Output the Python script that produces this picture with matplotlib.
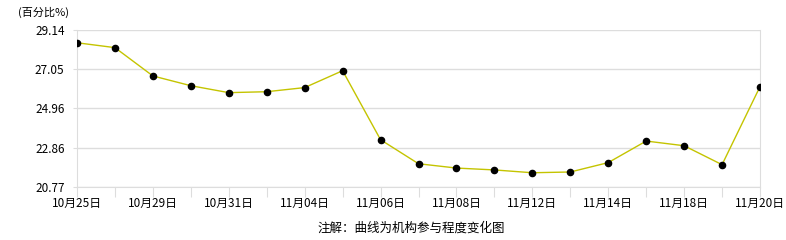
import matplotlib
matplotlib.use('Agg')
import matplotlib.pyplot as plt
import numpy as np

plt.rcParams['font.family'] = ['Noto Sans CJK SC', 'DejaVu Sans']

# data
values = [28.46, 28.20, 26.69, 26.17, 25.80, 25.85, 26.07, 26.97, 23.29, 22.01,
          21.78, 21.68, 21.53, 21.57, 22.07, 23.22, 22.97, 21.96, 26.12]
date_labels = ['10月25日', '10月29日', '10月31日', '11月04日', '11月06日',
               '11月08日', '11月12日', '11月14日', '11月18日', '11月20日']
y_ticks = [20.77, 22.86, 24.96, 27.05, 29.14]

grid_c = '#dddddd'

fig = plt.figure(figsize=(7.86, 2.4), dpi=100)
ax = fig.add_axes([77 / 786, 1 - 187 / 240, (760 - 77) / 786, (187 - 30) / 240])

x = np.arange(len(values))
ax.plot(x, values, color='#c4c400', lw=1.0, zorder=2)
ax.scatter(x, values, s=20, color='black', zorder=3)

ax.set_xlim(0, len(values) - 1)
ax.set_ylim(y_ticks[0], y_ticks[-1])
ax.set_yticks(y_ticks)
ax.set_yticklabels(['%.2f' % v for v in y_ticks], fontsize=8.5)
ax.grid(axis='y', color=grid_c, lw=1)

# label every other point
ax.set_xticks(x)
labels = [''] * len(values)
for i, lab in enumerate(date_labels):
    labels[i * 2] = lab
ax.set_xticklabels(labels, fontsize=8.5)
ax.tick_params(axis='x', length=7, color=grid_c, pad=0)
ax.tick_params(axis='y', length=3, color=grid_c, pad=6)

for s in ['left', 'bottom', 'right']:
    ax.spines[s].set_color(grid_c)
ax.spines['top'].set_visible(False)

fig.text(18 / 786, 1 - 12 / 240, '(百分比%)', fontsize=8, va='center', ha='left')
fig.text(411 / 786, 1 - 228 / 240, '注解：曲线为机构参与程度变化图', fontsize=9,
         va='center', ha='center')

fig.savefig('out.png', dpi=100)
